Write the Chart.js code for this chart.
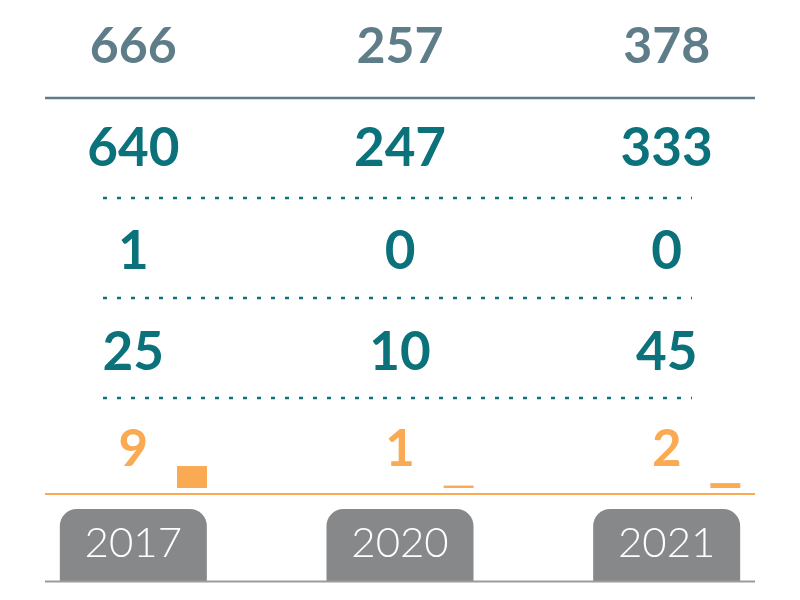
<!DOCTYPE html>
<html>
<head>
<meta charset="utf-8">
<script src="https://cdn.jsdelivr.net/npm/chart.js@4"></script>
<style>
  html, body { margin: 0; padding: 0; background: #fff; }
  #wrap { width: 800px; height: 600px; }
</style>
</head>
<body>
<div id="wrap"><canvas id="chart" width="800" height="600"></canvas></div>
<script>
"use strict";

// values
const years = ["2017", "2020", "2021"];
const totals = [666, 257, 378];
const rowOne = [640, 247, 333];
const rowTwo = [1, 0, 0];
const rowThree = [25, 10, 45];
const orangeVals = [9, 1, 2];

const GREY_BLUE = "#5f7c89";
const TEAL = "#0b727c";
const ORANGE = "#f9aa52";
const TAB = "#87888a";

// rows of figures, drawn at each year's x position
const rows = [
  { values: totals, y: 47, color: GREY_BLUE, size: 50 },
  { values: rowOne, y: 149, color: TEAL, size: 53 },
  { values: rowTwo, y: 252, color: TEAL, size: 53 },
  { values: rowThree, y: 353, color: TEAL, size: 53 },
  { values: orangeVals, y: 450, color: ORANGE, size: 51 },
];

function roundTopRect(ctx, x, y, w, h, r) {
  ctx.beginPath();
  ctx.moveTo(x, y + h);
  ctx.lineTo(x, y + r);
  ctx.arcTo(x, y, x + r, y, r);
  ctx.lineTo(x + w - r, y);
  ctx.arcTo(x + w, y, x + w, y + r, r);
  ctx.lineTo(x + w, y + h);
  ctx.closePath();
}

const tablePlugin = {
  id: "table",
  beforeDraw(chart) {
    const ctx = chart.ctx;
    const x = chart.scales.x;
    ctx.save();
    // year tabs
    ctx.fillStyle = TAB;
    years.forEach((_, i) => {
      const cx = x.getPixelForValue(i);
      roundTopRect(ctx, cx - 73.5, 509, 147, 72, 17);
      ctx.fill();
    });
    // solid rules
    ctx.lineWidth = 2.5;
    ctx.strokeStyle = GREY_BLUE;
    ctx.beginPath(); ctx.moveTo(45, 98); ctx.lineTo(755, 98); ctx.stroke();
    ctx.lineWidth = 2;
    ctx.strokeStyle = ORANGE;
    ctx.beginPath(); ctx.moveTo(45, 494); ctx.lineTo(755, 494); ctx.stroke();
    ctx.strokeStyle = "#9b9b9b";
    ctx.beginPath(); ctx.moveTo(45, 581.5); ctx.lineTo(755, 581.5); ctx.stroke();
    // dotted rules
    ctx.strokeStyle = TEAL;
    ctx.lineWidth = 2.5;
    ctx.setLineDash([4, 10]);
    [198, 298, 398].forEach((y) => {
      ctx.beginPath(); ctx.moveTo(103, y); ctx.lineTo(692, y); ctx.stroke();
    });
    ctx.setLineDash([]);
    // figures
    ctx.textAlign = "center";
    ctx.textBaseline = "middle";
    rows.forEach((row) => {
      ctx.fillStyle = row.color;
      ctx.font = "bold " + row.size + "px Lato";
      row.values.forEach((v, i) => {
        ctx.fillText(String(v), x.getPixelForValue(i), row.y);
      });
    });
    ctx.restore();
  },
};

new Chart(document.getElementById("chart"), {
  type: "bar",
  data: {
    labels: years,
    datasets: [
      { label: "spacer", data: [null, null, null], backgroundColor: "rgba(0,0,0,0)" },
      { label: "orange", data: orangeVals, backgroundColor: ORANGE, borderWidth: 0 },
    ],
  },
  options: {
    responsive: false,
    animation: false,
    devicePixelRatio: 1,
    layout: { padding: 0 },
    categoryPercentage: 0.88,
    barPercentage: 0.255,
    plugins: { legend: { display: false }, tooltip: { enabled: false } },
    scales: {
      x: {
        grid: { display: false },
        border: { display: false },
        ticks: {
          color: "#ffffff",
          padding: 22,
          font: { family: "Lato", size: 42, weight: "300" },
        },
        afterFit(scale) { scale.height = 112; },
      },
      y: { display: false, min: 0, max: 200 },
    },
  },
  plugins: [tablePlugin],
});
</script>
</body>
</html>
